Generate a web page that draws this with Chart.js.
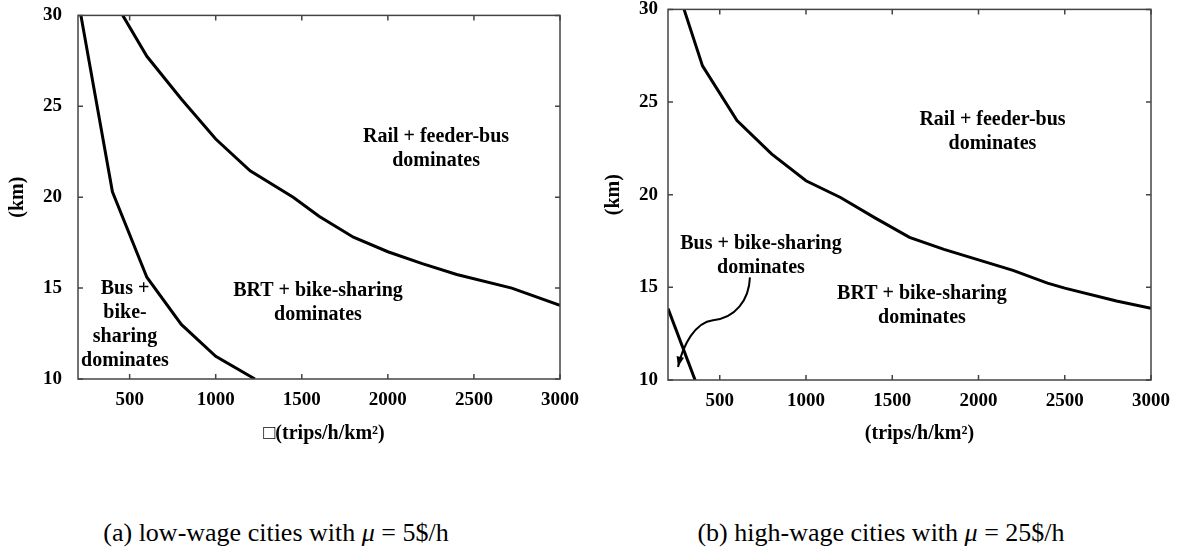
<!DOCTYPE html>
<html>
<head>
<meta charset="utf-8">
<script src="https://cdn.jsdelivr.net/npm/chart.js@4.4.1/dist/chart.umd.min.js"></script>
<style>
  html, body { margin: 0; padding: 0; background: #fff; }
  body { width: 1186px; height: 552px; position: relative; overflow: hidden; }
  canvas { position: absolute; top: -12px; }
  #low { left: 0; }
  #high { left: 590px; }
  .caption {
    position: absolute; top: 518px; line-height: 30px;
    font: 26px "Liberation Serif", "Times New Roman", serif;
    white-space: nowrap; transform: translateX(-50%);
  }
</style>
</head>
<body>
<canvas id="low" width="590" height="470"></canvas>
<canvas id="high" width="596" height="470"></canvas>
<div class="caption" style="left:276px">(a) low-wage cities with <i>μ</i> = 5$/h</div>
<div class="caption" style="left:881px">(b) high-wage cities with <i>μ</i> = 25$/h</div>
<script>
const xTicks = [500, 1000, 1500, 2000, 2500, 3000];
const yTicks = [10, 15, 20, 25, 30];

// (a) mu = 5 $/h
const busLowX = [217, 400, 600, 800, 1000, 1228];
const busLowY = [30, 20.3, 15.6, 13.0, 11.25, 10];
const railLowX = [460, 600, 800, 1000, 1200, 1450, 1600, 1800, 2000, 2200, 2400, 2720, 3000];
const railLowY = [30, 27.75, 25.4, 23.2, 21.45, 20.0, 18.95, 17.8, 17.0, 16.35, 15.75, 15.0, 14.05];

// (b) mu = 25 $/h
const railHighX = [293, 400, 600, 800, 1000, 1200, 1400, 1600, 1800, 2000, 2200, 2400, 2500, 2800, 3000];
const railHighY = [30, 26.95, 24.0, 22.2, 20.75, 19.85, 18.75, 17.7, 17.05, 16.48, 15.92, 15.23, 14.96, 14.26, 13.87];
const busHighX = [200, 357];
const busHighY = [13.86, 10];

// pointer from the bus label into the thin bus region (two cubic pieces)
const arrowX = [675, 670, 588, 461, 356, 287, 258];
const arrowY = [15.54, 14.3, 13.33, 13.23, 13.12, 11.88, 10.7];

const serif = '"Liberation Serif", "Times New Roman", Times, serif';
Chart.defaults.font.family = serif;
Chart.defaults.font.weight = 'bold';
Chart.defaults.color = '#000';

function points(xs, ys) {
    return xs.map((x, i) => ({ x, y: ys[i] }));
}

// box round the plot with inward ticks on all four sides
const framePlugin = {
    id: 'frame',
    afterDatasetsDraw(chart) {
        const { ctx, chartArea: a, scales: { x, y } } = chart;
        ctx.save();
        ctx.strokeStyle = '#444';
        ctx.lineWidth = 1.5;
        ctx.strokeRect(a.left, a.top, a.right - a.left, a.bottom - a.top);
        ctx.beginPath();
        xTicks.forEach(v => {
            const px = x.getPixelForValue(v);
            ctx.moveTo(px, a.bottom); ctx.lineTo(px, a.bottom - 5);
            ctx.moveTo(px, a.top); ctx.lineTo(px, a.top + 5);
        });
        yTicks.forEach(v => {
            const py = y.getPixelForValue(v);
            ctx.moveTo(a.left, py); ctx.lineTo(a.left + 5, py);
            ctx.moveTo(a.right, py); ctx.lineTo(a.right - 5, py);
        });
        ctx.stroke();
        ctx.restore();
    }
};

const regionPlugin = {
    id: 'regionLabels',
    afterDraw(chart, args, opts) {
        const { ctx, scales: { x, y } } = chart;
        ctx.save();
        ctx.fillStyle = '#000';
        ctx.strokeStyle = '#000';
        ctx.font = 'bold 20px ' + serif;
        ctx.textAlign = 'center';
        ctx.textBaseline = 'middle';
        (opts.items || []).forEach(item => {
            const cx = x.getPixelForValue(item.x);
            const cy = y.getPixelForValue(item.y);
            const n = item.text.length;
            item.text.forEach((t, i) => ctx.fillText(t, cx, cy + (i - (n - 1) / 2) * 24));
        });
        if (opts.arrow) {
            const p = opts.arrow.x.map((v, i) => [x.getPixelForValue(v), y.getPixelForValue(opts.arrow.y[i])]);
            ctx.lineWidth = 2;
            ctx.beginPath();
            ctx.moveTo(p[0][0], p[0][1]);
            for (let i = 1; i + 2 < p.length; i += 3) {
                ctx.bezierCurveTo(p[i][0], p[i][1], p[i + 1][0], p[i + 1][1], p[i + 2][0], p[i + 2][1]);
            }
            ctx.stroke();
            const [ex, ey] = p[p.length - 1];
            const [qx, qy] = p[p.length - 2];
            const ang = Math.atan2(ey - qy, ex - qx);
            ctx.beginPath();
            ctx.moveTo(ex, ey);
            ctx.lineTo(ex - 11 * Math.cos(ang - 0.35), ey - 11 * Math.sin(ang - 0.35));
            ctx.lineTo(ex - 11 * Math.cos(ang + 0.35), ey - 11 * Math.sin(ang + 0.35));
            ctx.closePath();
            ctx.fill();
        }
        ctx.restore();
    }
};

function panel(id, curves, fit, labels) {
    return new Chart(document.getElementById(id), {
        type: 'line',
        data: {
            datasets: curves.map(c => ({
                data: points(c[0], c[1]),
                borderColor: '#000',
                borderWidth: 3,
                pointRadius: 0,
                tension: 0,
                fill: false
            }))
        },
        options: {
            responsive: false,
            animation: false,
            layout: { padding: { top: fit.top, right: fit.right, left: 0, bottom: 0 } },
            plugins: {
                legend: { display: false },
                tooltip: { enabled: false },
                regionLabels: labels
            },
            scales: {
                x: {
                    type: 'linear',
                    min: 200,
                    max: 3000,
                    grid: { display: false, drawTicks: false },
                    border: { display: false },
                    afterBuildTicks: s => { s.ticks = xTicks.map(value => ({ value })); },
                    afterFit: s => { s.height = fit.xHeight; },
                    ticks: {
                        padding: 10,
                        autoSkip: false,
                        maxRotation: 0,
                        font: { size: 19, weight: 'bold' },
                        callback: v => String(v)
                    },
                    title: {
                        display: true,
                        text: fit.xTitle,
                        font: { size: 20, weight: 'bold' },
                        padding: { top: 0, bottom: 12 }
                    }
                },
                y: {
                    min: 10,
                    max: 30,
                    grid: { display: false, drawTicks: false },
                    border: { display: false },
                    afterBuildTicks: s => { s.ticks = yTicks.map(value => ({ value })); },
                    afterFit: s => { s.width = 78; },
                    ticks: { padding: fit.yPad, font: { size: 19, weight: 'bold' } },
                    title: {
                        display: true,
                        text: '(km)',
                        font: { size: 20, weight: 'bold' },
                        padding: { top: fit.yTitlePad, bottom: 0 }
                    }
                }
            }
        },
        plugins: [framePlugin, regionPlugin]
    });
}

panel('low',
    [[busLowX, busLowY], [railLowX, railLowY]],
    { top: 21, right: 30, xHeight: 79, yPad: 16, yTitlePad: 6, xTitle: '\u2002\u25A1(trips/h/km\u00B2)' },
    {
        items: [
            { text: ['Rail + feeder-bus', 'dominates'], x: 2280, y: 22.68 },
            { text: ['BRT + bike-sharing', 'dominates'], x: 1594, y: 14.18 },
            { text: ['Bus +', 'bike-', 'sharing', 'dominates'], x: 473, y: 12.96 }
        ]
    });

panel('high',
    [[railHighX, railHighY], [busHighX, busHighY]],
    { top: 19, right: 35, xHeight: 78, yPad: 10, yTitlePad: 12, xTitle: '\u2003(trips/h/km\u00B2)' },
    {
        items: [
            { text: ['Rail + feeder-bus', 'dominates'], x: 2081, y: 23.39 },
            { text: ['BRT + bike-sharing', 'dominates'], x: 1672, y: 14.0 },
            { text: ['Bus + bike-sharing', 'dominates'], x: 739, y: 16.72 }
        ],
        arrow: { x: arrowX, y: arrowY }
    });
</script>
</body>
</html>
